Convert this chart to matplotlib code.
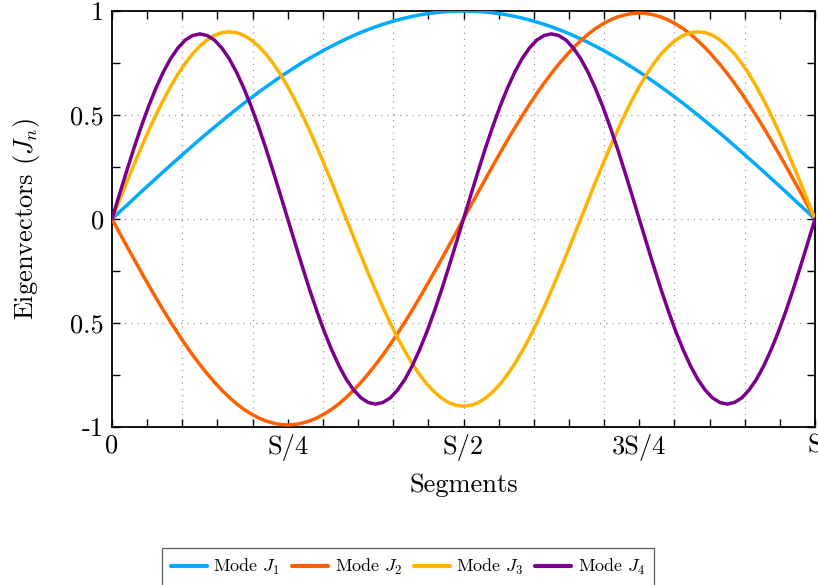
import numpy as np
import matplotlib
matplotlib.use("Agg")
import matplotlib.pyplot as plt

plt.rcParams["font.family"] = "serif"
plt.rcParams["font.serif"] = ["cmr10", "DejaVu Serif"]
plt.rcParams["mathtext.fontset"] = "cm"
plt.rcParams["axes.unicode_minus"] = False

# Segment positions as a fraction of S (97 samples from 0 to S)
segments = np.arange(97) / 96

# Mode shapes sampled along the segments
mode_j1 = [0.000, 0.033, 0.065, 0.098, 0.131, 0.163, 0.195, 0.227, 0.259, 0.290,
           0.321, 0.352, 0.383, 0.413, 0.442, 0.471, 0.500, 0.528, 0.556, 0.582,
           0.609, 0.634, 0.659, 0.684, 0.707, 0.730, 0.752, 0.773, 0.793, 0.813,
           0.831, 0.849, 0.866, 0.882, 0.897, 0.911, 0.924, 0.936, 0.947, 0.957,
           0.966, 0.974, 0.981, 0.987, 0.991, 0.995, 0.998, 0.999, 1.000,
           0.999, 0.998, 0.995, 0.991, 0.987, 0.981, 0.974, 0.966, 0.957, 0.947,
           0.936, 0.924, 0.911, 0.897, 0.882, 0.866, 0.849, 0.831, 0.813, 0.793,
           0.773, 0.752, 0.730, 0.707, 0.684, 0.659, 0.634, 0.609, 0.582, 0.556,
           0.528, 0.500, 0.471, 0.442, 0.413, 0.383, 0.352, 0.321, 0.290, 0.259,
           0.227, 0.195, 0.163, 0.131, 0.098, 0.065, 0.033, 0.000]
mode_j2 = [0.000, -0.065, -0.129, -0.193, -0.256, -0.318, -0.379, -0.438, -0.495, -0.550,
           -0.603, -0.653, -0.700, -0.744, -0.785, -0.823, -0.857, -0.888, -0.915, -0.937,
           -0.956, -0.971, -0.981, -0.988, -0.990,
           -0.988, -0.981, -0.971, -0.956, -0.937, -0.915, -0.888, -0.857, -0.823, -0.785,
           -0.744, -0.700, -0.653, -0.603, -0.550, -0.495, -0.438, -0.379, -0.318, -0.256,
           -0.193, -0.129, -0.065, 0.000,
           0.065, 0.129, 0.193, 0.256, 0.318, 0.379, 0.438, 0.495, 0.550, 0.603,
           0.653, 0.700, 0.744, 0.785, 0.823, 0.857, 0.888, 0.915, 0.937, 0.956,
           0.971, 0.981, 0.988, 0.990,
           0.988, 0.981, 0.971, 0.956, 0.937, 0.915, 0.888, 0.857, 0.823, 0.785,
           0.744, 0.700, 0.653, 0.603, 0.550, 0.495, 0.438, 0.379, 0.318, 0.256,
           0.193, 0.129, 0.065, 0.000]
mode_j3 = [0.000, 0.088, 0.176, 0.261, 0.344, 0.424, 0.500, 0.571, 0.636, 0.696,
           0.748, 0.794, 0.831, 0.861, 0.883, 0.896, 0.900,
           0.896, 0.883, 0.861, 0.831, 0.794, 0.748, 0.696, 0.636, 0.571,
           0.500, 0.424, 0.344, 0.261, 0.176, 0.088, 0.000,
           -0.088, -0.176, -0.261, -0.344, -0.424, -0.500, -0.571, -0.636, -0.696,
           -0.748, -0.794, -0.831, -0.861, -0.883, -0.896, -0.900,
           -0.896, -0.883, -0.861, -0.831, -0.794, -0.748, -0.696, -0.636, -0.571,
           -0.500, -0.424, -0.344, -0.261, -0.176, -0.088, 0.000,
           0.088, 0.176, 0.261, 0.344, 0.424, 0.500, 0.571, 0.636, 0.696,
           0.748, 0.794, 0.831, 0.861, 0.883, 0.896, 0.900,
           0.896, 0.883, 0.861, 0.831, 0.794, 0.748, 0.696, 0.636, 0.571,
           0.500, 0.424, 0.344, 0.261, 0.176, 0.088, 0.000]
mode_j4 = [0.000, 0.116, 0.230, 0.341, 0.445, 0.542, 0.629, 0.706, 0.771, 0.822,
           0.860, 0.882, 0.890,
           0.882, 0.860, 0.822, 0.771, 0.706, 0.629, 0.542, 0.445, 0.341, 0.230, 0.116, 0.000,
           -0.116, -0.230, -0.341, -0.445, -0.542, -0.629, -0.706, -0.771, -0.822,
           -0.860, -0.882, -0.890,
           -0.882, -0.860, -0.822, -0.771, -0.706, -0.629, -0.542, -0.445, -0.341, -0.230, -0.116, 0.000,
           0.116, 0.230, 0.341, 0.445, 0.542, 0.629, 0.706, 0.771, 0.822,
           0.860, 0.882, 0.890,
           0.882, 0.860, 0.822, 0.771, 0.706, 0.629, 0.542, 0.445, 0.341, 0.230, 0.116, 0.000,
           -0.116, -0.230, -0.341, -0.445, -0.542, -0.629, -0.706, -0.771, -0.822,
           -0.860, -0.882, -0.890,
           -0.882, -0.860, -0.822, -0.771, -0.706, -0.629, -0.542, -0.445, -0.341, -0.230, -0.116, 0.000]

series = [mode_j1, mode_j2, mode_j3, mode_j4]
labels = [r"Mode $J_1$", r"Mode $J_2$", r"Mode $J_3$", r"Mode $J_4$"]
colors = ["#00AAFF", "#FF6000", "#FFB300", "#7A008C"]

x_tick_pos = [0, 0.25, 0.5, 0.75, 1.0]
x_tick_labels = ["0", "S/4", "S/2", "3S/4", "S"]
y_tick_pos = [-1, -0.5, 0, 0.5, 1]
y_tick_labels = ["-1", "0.5", "0", "0.5", "1"]

fig = plt.figure(figsize=(8.18, 5.85), dpi=100)
ax = fig.add_axes([112 / 818, 1 - 427 / 585, (815 - 112) / 818, (427 - 11) / 585])

# dotted grid
for gx in np.arange(1, 10) / 10:
    ax.axvline(gx, color="#999999", lw=0.9, ls=(0, (1, 4)), zorder=0)
for gy in [-0.5, 0, 0.5]:
    ax.axhline(gy, color="#999999", lw=0.9, ls=(0, (1, 4)), zorder=0)

lines = []
for vals, lab, col in zip(series, labels, colors):
    ln, = ax.plot(segments, vals, color=col, lw=2.5, label=lab,
                  solid_joinstyle="round", solid_capstyle="round", zorder=3)
    lines.append(ln)

ax.set_xlim(0, 1)
ax.set_ylim(-1, 1)

# ticks: every S/20 on x, every 0.25 on y; labels only at the named positions
xt = np.arange(21) / 20
ax.set_xticks(xt)
ax.set_xticklabels([x_tick_labels[x_tick_pos.index(round(v, 2))] if round(v, 2) in x_tick_pos else "" for v in xt])
yt = np.arange(-4, 5) / 4
ax.set_yticks(yt)
ax.set_yticklabels([y_tick_labels[y_tick_pos.index(v)] if v in y_tick_pos else "" for v in yt])
ax.tick_params(direction="in", length=6, width=1.0, top=True, right=True,
               labelsize=19, colors="black")
ax.tick_params(axis="x", pad=5)
ax.tick_params(axis="y", pad=6)

for sp in ax.spines.values():
    sp.set_linewidth(1.3)

ax.set_xlabel("Segments", fontsize=19, labelpad=9)
ax.set_ylabel(r"Eigenvectors ($J_n$)", fontsize=19, labelpad=20)

leg = fig.legend(handles=lines, loc="upper left", bbox_to_anchor=(162 / 818, 1 - 548 / 585),
                 ncol=4, fontsize=13, frameon=True, fancybox=False, edgecolor="#333333",
                 handlelength=2.0, handletextpad=0.35, columnspacing=0.65,
                 borderpad=0.5, borderaxespad=0)
leg.get_frame().set_linewidth(0.9)
for h in leg.get_lines():
    h.set_linewidth(3.0)

fig.savefig("out.png", dpi=100)
